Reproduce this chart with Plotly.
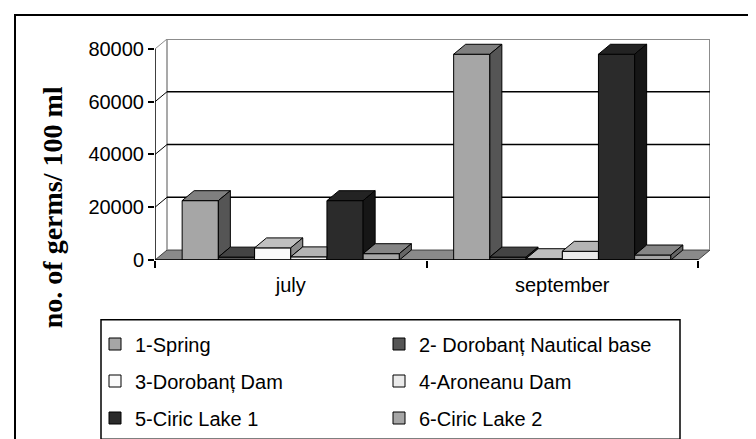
import plotly.graph_objects as go

# ---------------- data ----------------
categories = ["july", "september"]
series_names = ["1-Spring", "2- Dorobanț Nautical base", "3-Dorobanț Dam",
                "4-Aroneanu Dam", "5-Ciric Lake 1", "6-Ciric Lake 2"]
spring = [22500, 78000]
nautical_base = [1100, 1100]
dorobant_dam = [4600, 500]
aroneanu_dam = [1200, 3300]
ciric_lake_1 = [22500, 78000]
ciric_lake_2 = [2400, 1900]
y_tick_values = [0, 20000, 40000, 60000, 80000]
y_tick_text = ["0", "20000", "40000", "60000", "80000"]
y_title = "no. of germs/ 100 ml"

series = [spring, nautical_base, dorobant_dam, aroneanu_dam, ciric_lake_1, ciric_lake_2]

# ---------------- style ----------------
front_colors = ["#a6a6a6", "#555555", "#fafafa", "#ebebeb", "#2b2b2b", "#a6a6a6"]
top_colors = ["#7f7f7f", "#444444", "#c0c0c0", "#b4b4b4", "#232323", "#858585"]
side_colors = ["#555555", "#333333", "#8c8c8c", "#8c8c8c", "#161616", "#666666"]

W, H = 756, 439
PL, PR, PT, PB = 147, 702, 31, 253      # plot area in px
FRONT_RIGHT = 690
DEPTH_X, DEPTH_Y = 12, 10               # 3-D depth in px
YMAX = 80000
BARGAP = 0.2
FONT = "Liberation Sans, Arial, sans-serif"
FS = 20

ncat = len(categories)
nser = len(series)
cat_px = (FRONT_RIGHT - PL) / ncat
dxu = DEPTH_X / cat_px
dyu = DEPTH_Y * YMAX / (PB - (PT + DEPTH_Y))
x_lo, x_hi = -0.5, ncat - 0.5
bw = (1 - BARGAP) / nser
slope = dyu / dxu


def px_x(p):
    return (p - PL) / (PR - PL)


def px_y(p):
    return (PB - p) / (PB - PT)


fig = go.Figure()

# front faces (real bars)
for i, (name, vals) in enumerate(zip(series_names, series)):
    fig.add_trace(go.Bar(
        x=list(range(ncat)), y=vals, name=name,
        marker=dict(color=front_colors[i], line=dict(color="black", width=1)),
        legend="legend" if i == 0 else f"legend{i + 1}",
        hovertemplate="%{y}<extra>" + name + "</extra>",
    ))

# top and side faces computed from the same data
for c in range(ncat):
    for i in range(nser):
        v = series[i][c]
        L = c - (1 - BARGAP) / 2 + i * bw
        R = L + bw
        vn = series[i + 1][c] if i < nser - 1 else 0
        h = min(max(0, vn - v), dyu)
        tx = [L, R, R, R + (dyu - h) / slope, L + dxu, L]
        ty = [v, v, v + h, v + dyu, v + dyu, v]
        fig.add_trace(go.Scatter(x=tx, y=ty, mode="lines", fill="toself",
                                 fillcolor=top_colors[i],
                                 line=dict(color="black", width=1),
                                 showlegend=False, hoverinfo="skip"))
        if vn < v:
            sx = [R, R, R + dxu, R + dxu, R]
            sy = [vn, v, v + dyu, vn + dyu, vn]
            fig.add_trace(go.Scatter(x=sx, y=sy, mode="lines", fill="toself",
                                     fillcolor=side_colors[i],
                                     line=dict(color="black", width=1),
                                     showlegend=False, hoverinfo="skip"))

shapes = []
# floor
shapes.append(dict(type="path", layer="below",
                   path=f"M{x_lo},0 L{x_hi},0 L{x_hi + dxu},{dyu} L{x_lo + dxu},{dyu} Z",
                   fillcolor="#8a8a8a", line=dict(color="#404040", width=1)))
# walls
wall_gray = "#8c8c8c"
shapes.append(dict(type="line", layer="below", x0=x_lo + dxu, y0=dyu, x1=x_lo + dxu, y1=YMAX + dyu,
                   line=dict(color=wall_gray, width=1.5)))
shapes.append(dict(type="line", layer="below", x0=x_hi + dxu, y0=dyu, x1=x_hi + dxu, y1=YMAX + dyu,
                   line=dict(color=wall_gray, width=2)))
for g in y_tick_values[1:]:
    col = "black" if g < YMAX else wall_gray
    wid = 1.5 if g < YMAX else 2
    shapes.append(dict(type="line", layer="below", x0=x_lo + dxu, y0=g + dyu, x1=x_hi + dxu, y1=g + dyu,
                       line=dict(color=col, width=wid)))
    shapes.append(dict(type="line", layer="below", x0=x_lo, y0=g, x1=x_lo + dxu, y1=g + dyu,
                       line=dict(color="black" if g < YMAX else wall_gray, width=1)))
# axis lines
shapes.append(dict(type="line", layer="above", x0=x_lo, y0=0, x1=x_lo, y1=YMAX,
                   line=dict(color="black", width=1.5)))
shapes.append(dict(type="line", layer="above", x0=x_lo, y0=0, x1=x_hi, y1=0,
                   line=dict(color="black", width=1.5)))
# outer frame (right/bottom edges fall outside the picture) and legend box
shapes.append(dict(type="rect", xref="paper", yref="paper",
                   x0=px_x(7), x1=px_x(770), y0=px_y(460), y1=px_y(7),
                   line=dict(color="black", width=2)))
shapes.append(dict(type="rect", xref="paper", yref="paper",
                   x0=px_x(93), x1=px_x(672), y0=px_y(433), y1=px_y(313),
                   line=dict(color="black", width=1.5)))

# legends: 3 rows x 2 columns
legend_cols = [87, 371]
legend_rows = [336, 373, 410]
legends = {}
for i in range(nser):
    key = "legend" if i == 0 else f"legend{i + 1}"
    legends[key] = dict(
        x=px_x(legend_cols[i % 2]), y=px_y(legend_rows[i // 2]),
        xanchor="left", yanchor="middle", orientation="h",
        bgcolor="rgba(0,0,0,0)", borderwidth=0,
        font=dict(family=FONT, size=FS, color="black"),
        itemwidth=30,
    )

fig.update_layout(
    width=W, height=H,
    margin=dict(l=PL, r=W - PR, t=PT, b=H - PB, pad=0),
    paper_bgcolor="white", plot_bgcolor="white",
    barmode="group", bargap=BARGAP, bargroupgap=0,
    showlegend=True,
    shapes=shapes,
    xaxis=dict(range=[x_lo, x_hi + dxu], showgrid=False, zeroline=False, showline=False,
               tickmode="array", tickvals=list(range(ncat)), ticktext=categories,
               ticks="", ticklabelstandoff=11,
               tickfont=dict(family=FONT, size=FS, color="black"),
               minor=dict(tickmode="array", tickvals=[x_lo + k for k in range(ncat + 1)],
                          ticks="outside", ticklen=7, tickcolor="black", tickwidth=1.5,
                          showgrid=False)),
    yaxis=dict(range=[0, YMAX + dyu], showgrid=False, zeroline=False, showline=False,
               tickmode="array", tickvals=y_tick_values, ticktext=y_tick_text,
               ticks="outside", ticklen=6, tickcolor="black", tickwidth=1.5,
               tickfont=dict(family=FONT, size=FS, color="black")),
    annotations=[dict(text="<b>" + y_title + "</b>", xref="paper", yref="paper",
                      x=px_x(44), y=px_y(200), xanchor="center", yanchor="middle",
                      textangle=-90, showarrow=False,
                      font=dict(family="Liberation Serif, Times New Roman, serif", size=28,
                                color="black"))],
    **legends,
)

fig.write_html("out.html")
